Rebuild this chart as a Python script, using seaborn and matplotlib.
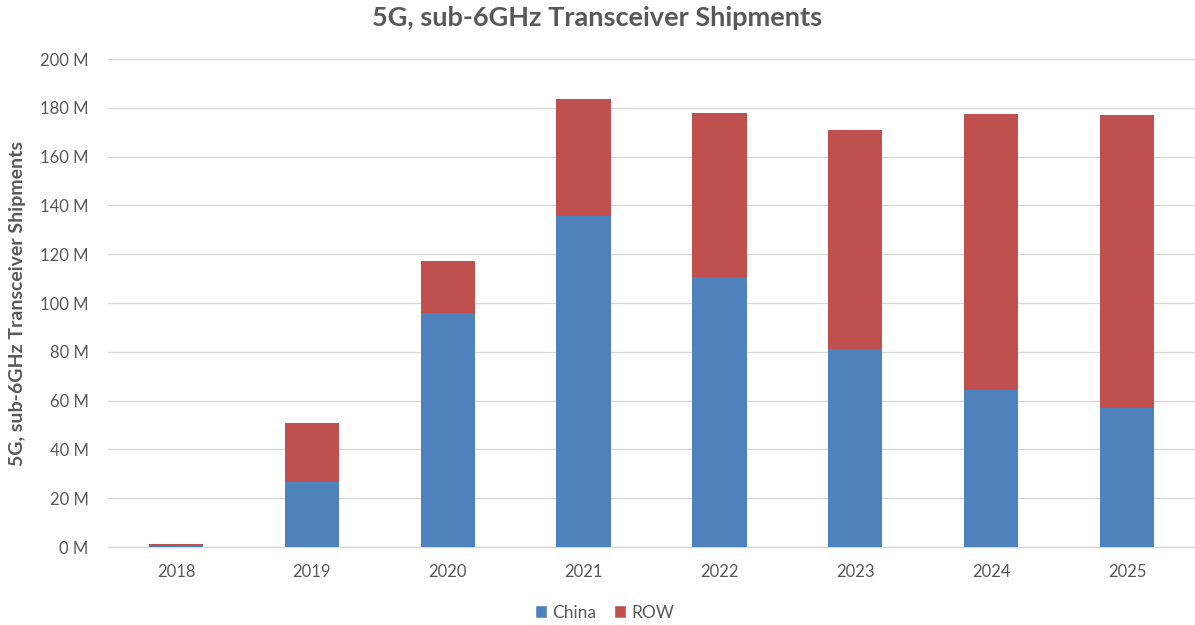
import matplotlib
matplotlib.use("Agg")
import matplotlib.pyplot as plt
import seaborn as sns
import pandas as pd
from matplotlib.patches import Patch
from matplotlib.ticker import FuncFormatter, MultipleLocator

years = ["2018", "2019", "2020", "2021", "2022", "2023", "2024", "2025"]
china = [0.3, 26.7, 95.9, 135.8, 110.8, 81.0, 64.4, 56.9]
row = [0.8, 24.0, 21.5, 47.7, 66.9, 90.0, 112.9, 120.0]

totals = [c + r for c, r in zip(china, row)]
df = pd.DataFrame({"year": years, "China": china, "ROW": row, "total": totals})

sns.set_theme(style="white")
plt.rcParams["font.family"] = ["Lato", "DejaVu Sans"]

BLUE = "#4F81BD"
RED = "#C0504D"
TXT = "#595959"

fig = plt.figure(figsize=(11.95, 6.25), dpi=100)
ax = fig.add_axes([0.0904, 0.1248, 0.9096, 0.7808])

sns.barplot(data=df, x="year", y="total", color=RED, width=0.4, ax=ax,
            saturation=1, zorder=3, linewidth=0)
sns.barplot(data=df, x="year", y="China", color=BLUE, width=0.4, ax=ax,
            saturation=1, zorder=4, linewidth=0)

ax.set_ylim(0, 200)
ax.set_xlim(-0.5, len(years) - 0.5)
ax.yaxis.set_major_locator(MultipleLocator(20))
ax.yaxis.set_major_formatter(FuncFormatter(lambda v, p: f"{int(v)} M"))
ax.grid(axis="y", color="#D9D9D9", linewidth=1.0, zorder=0)
ax.set_axisbelow(True)
for s in ["top", "right", "left"]:
    ax.spines[s].set_visible(False)
ax.spines["bottom"].set_color("#D9D9D9")
ax.spines["bottom"].set_linewidth(1.0)
ax.tick_params(axis="both", length=0, labelsize=12, colors=TXT, pad=12)
ax.tick_params(axis="y", pad=14)
ax.set_xlabel("")
ax.set_ylabel("5G, sub-6GHz Transceiver Shipments", fontsize=14, fontweight="bold",
              color=TXT, labelpad=10)

fig.suptitle("5G, sub-6GHz Transceiver Shipments", x=0.5, y=0.99,
             fontsize=19.5, fontweight="bold", color=TXT)

handles = [Patch(facecolor=BLUE, label="China"), Patch(facecolor=RED, label="ROW")]
fig.legend(handles=handles, loc="center", bbox_to_anchor=(0.506, 0.02), ncol=2,
           frameon=False, fontsize=12.5, handlelength=0.7, handleheight=0.7,
           handletextpad=0.3, columnspacing=1.0, labelcolor=TXT)

fig.savefig("out.png", dpi=100, facecolor="white")
